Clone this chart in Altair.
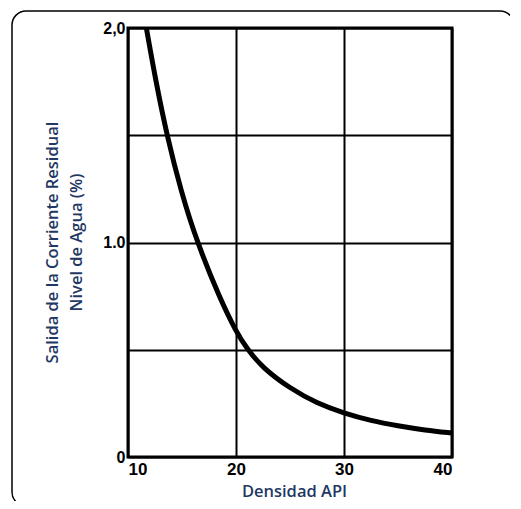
import altair as alt
import pandas as pd

# Curve: API gravity vs residual water level (%)
api = [11.7, 12.6, 13.6, 14.9, 16.4, 18.5, 20.0, 21.0, 22.5, 25.0, 27.5, 30.0, 32.5, 35.0, 37.5, 40.0]
water = [2.0, 1.745, 1.5, 1.24, 1.0, 0.74, 0.585, 0.505, 0.414, 0.32, 0.25, 0.204, 0.169, 0.145, 0.125, 0.112]

x_ticks = [10, 20, 30, 40]
y_ticks = [0, 0.5, 1.0, 1.5, 2.0]

df = pd.DataFrame({"api": api, "water": water})

TITLE_COLOR = "#1F3864"

line = alt.Chart(df).mark_line(color="black", strokeWidth=5, interpolate="basis").encode(
    x=alt.X("api:Q",
            scale=alt.Scale(domain=[10, 40], nice=False),
            axis=alt.Axis(values=x_ticks, title="Densidad API", titleX=166, titleY=42,
                          titleBaseline="bottom",
                          labelFontSize=17, labelPadding=4)),
    y=alt.Y("water:Q",
            scale=alt.Scale(domain=[0, 2], nice=False),
            axis=alt.Axis(values=y_ticks,
                          labelExpr="datum.value == 2 ? '2,0' : datum.value == 1 ? '1.0' : datum.value == 0 ? '0' : ''",
                          title=["Salida de la Corriente Residual", "Nivel de Agua (%)"],
                          titleX=-76, titleY=214, titleBaseline="middle", titleLineHeight=24,
                          labelFontSize=16, labelPadding=3)),
)

frame = alt.Chart(pd.DataFrame({"a": [0]})).mark_rect(
    fill=None, stroke="black", strokeWidth=1.5, cornerRadius=14
).encode(
    x=alt.value(-116), x2=alt.value(386), y=alt.value(-17), y2=alt.value(478)
)

chart = alt.layer(frame, line).properties(
    width=324, height=429,
    autosize=alt.AutoSizeParams(type="none"),
    padding={"left": 120, "top": 20, "right": 58, "bottom": 44},
    background="white",
).configure_view(
    stroke="black", strokeWidth=3
).configure_axis(
    grid=True, gridColor="black", gridWidth=2, gridOpacity=1,
    domain=False, ticks=False,
    labelColor="black", labelFont="Liberation Sans", labelFontWeight="bold",
    titleColor=TITLE_COLOR, titleFont="Open Sans", titleFontWeight=600, titleFontSize=16.5,
)

chart.save("out.html", embed_options={"renderer": "svg", "actions": False})
